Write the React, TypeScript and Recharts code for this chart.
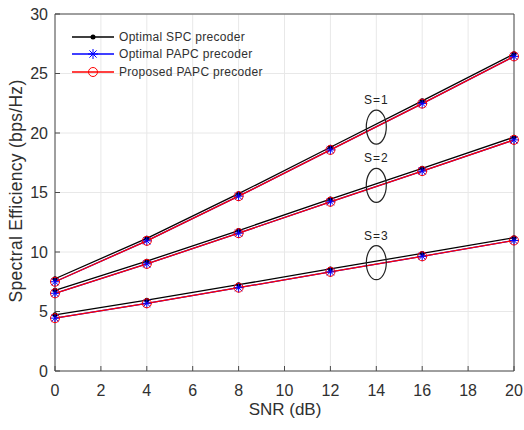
import React from "react";
import {
  LineChart,
  Line,
  XAxis,
  YAxis,
  CartesianGrid,
  ReferenceDot,
} from "recharts";

const snr = [0, 4, 8, 12, 16, 20];
const xTicks = [0, 2, 4, 6, 8, 10, 12, 14, 16, 18, 20];
const yTicks = [0, 5, 10, 15, 20, 25, 30];

// S = 1
const spcS1 = [7.75, 11.15, 14.9, 18.8, 22.7, 26.65];
const papcS1 = [7.5, 10.94, 14.69, 18.58, 22.47, 26.44];
const propS1 = [7.5, 10.94, 14.69, 18.58, 22.47, 26.44];
// S = 2
const spcS2 = [6.78, 9.23, 11.8, 14.45, 17.03, 19.65];
const papcS2 = [6.53, 9.0, 11.58, 14.22, 16.8, 19.42];
const propS2 = [6.53, 9.0, 11.58, 14.22, 16.8, 19.42];
// S = 3
const spcS3 = [4.72, 5.95, 7.25, 8.58, 9.88, 11.2];
const papcS3 = [4.44, 5.69, 7.0, 8.33, 9.64, 10.97];
const propS3 = [4.44, 5.69, 7.0, 8.33, 9.64, 10.97];

const groups = [
  { label: "S=1", x: 14, y: 20.5 },
  { label: "S=2", x: 14, y: 15.6 },
  { label: "S=3", x: 14, y: 9.1 },
];

const data = snr.map((x, i) => ({
  snr: x,
  spc1: spcS1[i],
  papc1: papcS1[i],
  prop1: propS1[i],
  spc2: spcS2[i],
  papc2: papcS2[i],
  prop2: propS2[i],
  spc3: spcS3[i],
  papc3: papcS3[i],
  prop3: propS3[i],
}));

const BLACK = "#000000";
const BLUE = "#0000ff";
const RED = "#ff0000";
const AXIS = "#4a4a4a";
const TEXT = "#303030";
const FONT = "'Liberation Sans', Arial, sans-serif";

const DotMark = (props: any) => {
  const { cx, cy } = props;
  if (cx == null || cy == null) return null;
  return <circle cx={cx} cy={cy} r={2.5} fill={BLACK} />;
};

const StarMark = (props: any) => {
  const { cx, cy } = props;
  if (cx == null || cy == null) return null;
  const s = 5;
  const d = 3.6;
  return (
    <g stroke={BLUE} strokeWidth={1}>
      <line x1={cx - s} y1={cy} x2={cx + s} y2={cy} />
      <line x1={cx} y1={cy - s} x2={cx} y2={cy + s} />
      <line x1={cx - d} y1={cy - d} x2={cx + d} y2={cy + d} />
      <line x1={cx - d} y1={cy + d} x2={cx + d} y2={cy - d} />
    </g>
  );
};

const CircleMark = (props: any) => {
  const { cx, cy } = props;
  if (cx == null || cy == null) return null;
  return <circle cx={cx} cy={cy} r={4.5} fill="none" stroke={RED} strokeWidth={1} />;
};

const series = [
  { key: "spc", color: BLACK, dot: DotMark },
  { key: "papc", color: BLUE, dot: StarMark },
  { key: "prop", color: RED, dot: CircleMark },
];

const legendItems = [
  { name: "Optimal SPC precoder", color: BLACK, kind: "dot" },
  { name: "Optimal PAPC precoder", color: BLUE, kind: "star" },
  { name: "Proposed PAPC precoder", color: RED, kind: "circle" },
];

function LegendIcon({ color, kind }: { color: string; kind: string }) {
  return (
    <svg width={42} height={12} style={{ display: "block" }}>
      <line x1={0} y1={6} x2={42} y2={6} stroke={color} strokeWidth={1.3} />
      {kind === "dot" && <DotMark cx={21} cy={6} />}
      {kind === "star" && <StarMark cx={21} cy={6} />}
      {kind === "circle" && <CircleMark cx={21} cy={6} />}
    </svg>
  );
}

export default function App() {
  return (
    <div
      style={{
        position: "absolute",
        left: 0,
        top: 0,
        width: 524,
        height: 430,
        background: "#fff",
        fontFamily: FONT,
      }}
    >
      <LineChart
        width={524}
        height={430}
        data={data}
        margin={{ top: 0, right: 0, left: 0, bottom: 0 }}
      >
        <CartesianGrid stroke="#e8e8e8" strokeWidth={1} />
        <XAxis
          dataKey="snr"
          type="number"
          domain={[0, 20]}
          ticks={xTicks}
          height={59}
          stroke={AXIS}
          tickSize={-5}
          tickMargin={19}
          tick={{ fill: TEXT, fontSize: 16, fontFamily: FONT }}
          label={{
            content: () => (
              <text
                x={285}
                y={415}
                textAnchor="middle"
                fill={TEXT}
                fontSize={17}
                fontFamily={FONT}
              >
                SNR (dB)
              </text>
            ),
          }}
        />
        <XAxis
          xAxisId="top"
          dataKey="snr"
          type="number"
          orientation="top"
          domain={[0, 20]}
          ticks={xTicks}
          height={14}
          stroke={AXIS}
          tickSize={-5}
          tick={false}
        />
        <YAxis
          type="number"
          domain={[0, 30]}
          ticks={yTicks}
          width={55}
          stroke={AXIS}
          tickSize={-5}
          tickMargin={12}
          tick={{ fill: TEXT, fontSize: 16, fontFamily: FONT }}
          label={{
            content: () => (
              <text
                transform="translate(22,191) rotate(-90)"
                textAnchor="middle"
                fill={TEXT}
                fontSize={17.5}
                fontFamily={FONT}
                letterSpacing={0.3}
              >
                Spectral Efficiency (bps/Hz)
              </text>
            ),
          }}
        />
        <YAxis
          yAxisId="right"
          orientation="right"
          type="number"
          domain={[0, 30]}
          ticks={yTicks}
          width={10}
          stroke={AXIS}
          tickSize={-5}
          tick={false}
        />
        {[1, 2, 3].flatMap((s) =>
          series.map((ser) => (
            <Line
              key={`${ser.key}${s}`}
              dataKey={`${ser.key}${s}`}
              stroke={ser.color}
              strokeWidth={1.3}
              dot={ser.dot}
              activeDot={false}
              isAnimationActive={false}
            />
          ))
        )}
        {groups.map((g) => (
          <ReferenceDot
            key={g.label}
            x={g.x}
            y={g.y}
            r={1}
            shape={(p: any) => (
              <g>
                <ellipse
                  cx={p.cx}
                  cy={p.cy}
                  rx={10}
                  ry={17}
                  fill="none"
                  stroke="#222"
                  strokeWidth={1.2}
                />
                <text
                  x={p.cx}
                  y={p.cy - 23}
                  textAnchor="middle"
                  fontSize={12}
                  fontFamily={FONT}
                  fill="#222"
                  letterSpacing={1}
                >
                  {g.label}
                </text>
              </g>
            )}
          />
        ))}
      </LineChart>
      <div style={{ position: "absolute", left: 72, top: 28 }}>
        {legendItems.map((it) => (
          <div
            key={it.name}
            style={{ display: "flex", alignItems: "center", height: 17.5 }}
          >
            <LegendIcon color={it.color} kind={it.kind} />
            <span
              style={{
                marginLeft: 5,
                fontSize: 12,
                color: TEXT,
                lineHeight: "12px",
                letterSpacing: 0.3,
              }}
            >
              {it.name}
            </span>
          </div>
        ))}
      </div>
    </div>
  );
}
